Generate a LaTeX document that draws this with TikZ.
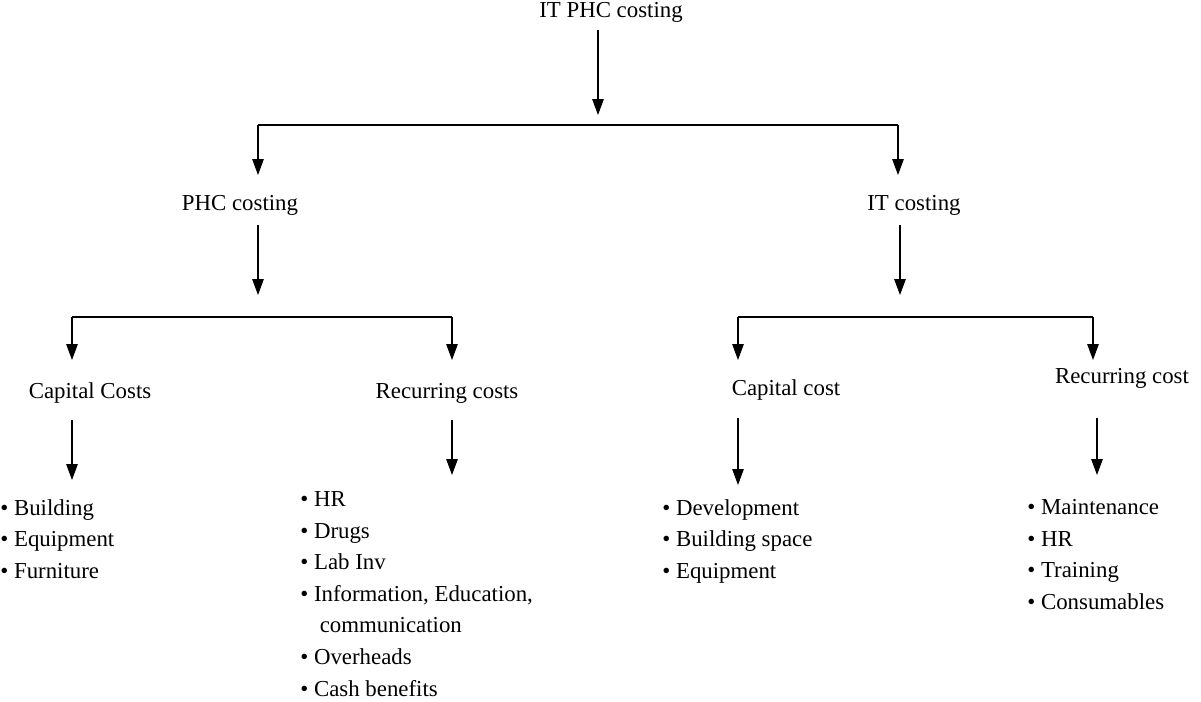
\documentclass[tikz,border=0pt]{standalone}
\usepackage{fontspec}
\setmainfont{Liberation Serif}
\usetikzlibrary{arrows.meta}
\tikzset{
  lbl/.style={inner sep=0pt, font=\fontsize{13}{16}\selectfont},
  lst/.style={inner sep=0pt, anchor=north west, align=left, font=\fontsize{13}{18}\selectfont},
  arr/.style={semithick, -{Triangle[length=9pt,width=6.5pt]}},
  bar/.style={semithick}
}
\begin{document}
\begin{tikzpicture}[x=0.02cm,y=-0.02cm]
\useasboundingbox (0,0) rectangle (1201,702);

\node[lbl] (top) at (611,12) {IT PHC costing};
\node[lbl] (phc) at (240,205) {PHC costing};
\node[lbl] (it) at (914,205) {IT costing};
\node[lbl] (pcap) at (90,393) {Capital Costs};
\node[lbl] (prec) at (447,393) {Recurring costs};
\node[lbl] (icap) at (786,390) {Capital cost};
\node[lbl] (irec) at (1122,378) {Recurring cost};

\node[lst] (pcapl) at (0,499) {\textbullet\ Building\\ \textbullet\ Equipment\\ \textbullet\ Furniture};
\node[lst] (precl) at (300,484) {\begin{tabular}{@{}l@{\ }l@{}}
\textbullet & HR\\ \textbullet & Drugs\\ \textbullet & Lab Inv\\ \textbullet & Information, Education,\\ & \ communication\\ \textbullet & Overheads\\ \textbullet & Cash benefits\end{tabular}};
\node[lst] (icapl) at (662,499) {\textbullet\ Development\\ \textbullet\ Building space\\ \textbullet\ Equipment};
\node[lst] (irecl) at (1027,499) {\textbullet\ Maintenance\\ \textbullet\ HR\\ \textbullet\ Training\\ \textbullet\ Consumables};

% top level
\coordinate (t1) at (598,115);
\coordinate (t2) at (258,125);
\coordinate (t3) at (898,125);
\draw[arr] (598,30) -- (t1);
\draw[bar] (258,125) -- (898,125);
\draw[arr] (t2) -- (258,175);
\draw[arr] (t3) -- (898,175);

% PHC branch
\draw[arr] (258,225) -- (258,295);
\draw[bar] (72,317) -- (452,317);
\draw[arr] (72,317) -- (72,360);
\draw[arr] (452,317) -- (452,360);
\draw[arr] (72,420) -- (72,480);
\draw[arr] (452,420) -- (452,475);

% IT branch
\draw[arr] (900,225) -- (900,295);
\draw[bar] (738,317) -- (1093,317);
\draw[arr] (738,317) -- (738,360);
\draw[arr] (1093,317) -- (1093,360);
\draw[arr] (738,418) -- (738,485);
\draw[arr] (1097,418) -- (1097,475);
\end{tikzpicture}
\end{document}
